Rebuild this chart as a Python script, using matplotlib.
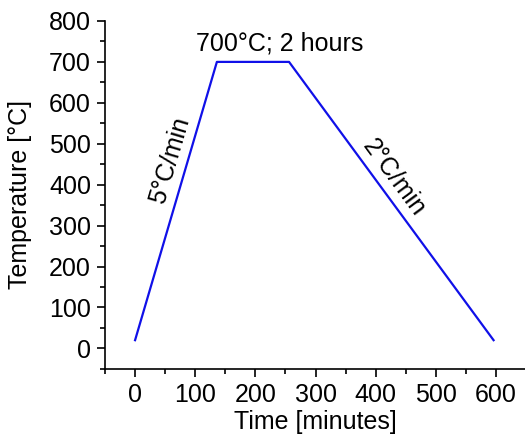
import matplotlib

matplotlib.use("Agg")
import matplotlib.pyplot as plt
from matplotlib.ticker import MultipleLocator

plt.rcParams["font.family"] = ["Liberation Sans", "DejaVu Sans"]

# annealing profile: ramp 5 C/min, hold 2 h at 700 C, cool 2 C/min
time_min = [0, 136, 256, 596]
temp_c = [20, 700, 700, 20]

fig = plt.figure(figsize=(5.25, 4.37), dpi=100)
ax = fig.add_axes([0.2, 0.156, 0.802, 0.796])

ax.plot(time_min, temp_c, color="#1010e8", linewidth=1.6)

ax.set_xlim(-50, 650)
ax.set_ylim(-50, 800)
ax.xaxis.set_major_locator(MultipleLocator(100))
ax.xaxis.set_minor_locator(MultipleLocator(50))
ax.yaxis.set_major_locator(MultipleLocator(100))
ax.yaxis.set_minor_locator(MultipleLocator(50))
ax.set_xticks(range(0, 601, 100))

for side in ("top", "right"):
    ax.spines[side].set_visible(False)
for side in ("left", "bottom"):
    ax.spines[side].set_linewidth(1.2)
ax.tick_params(which="major", direction="out", length=6, width=1.2, labelsize=18, pad=4)
ax.tick_params(which="minor", direction="out", length=3.5, width=1.2)

ax.set_xlabel("Time [minutes]", fontsize=18, labelpad=2.5)
ax.set_ylabel("Temperature [°C]", fontsize=18, labelpad=12)

ax.text(241, 716, "700°C; 2 hours", fontsize=18, ha="center", va="bottom")
ax.text(58, 460, "5°C/min", fontsize=18, ha="center", va="center", rotation=73.6)
ax.text(430, 418, "2°C/min", fontsize=18, ha="center", va="center", rotation=-53.6)

fig.savefig("out.png", dpi=100)
plt.close(fig)
